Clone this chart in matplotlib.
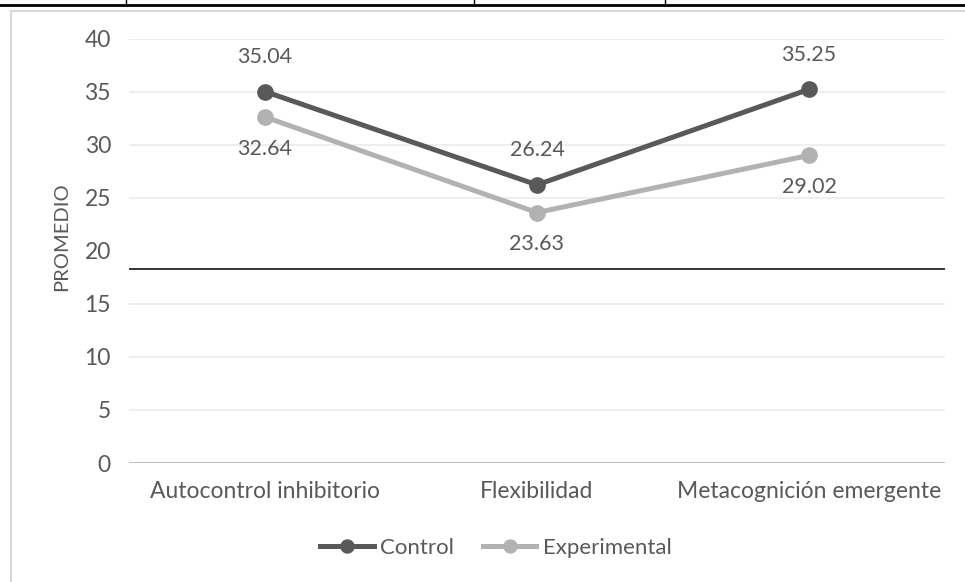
import matplotlib.pyplot as plt
from matplotlib.lines import Line2D

# Datos del grafico
categorias = ['Autocontrol inhibitorio', 'Flexibilidad', 'Metacognición emergente']
control = [35.04, 26.24, 35.25]
experimental = [32.64, 23.63, 29.02]
yticks = [0, 5, 10, 15, 20, 25, 30, 35, 40]

GRIS_OSCURO = '#595959'
GRIS_CLARO = '#B2B2B2'
TEXTO = '#595959'

plt.rcParams['font.family'] = ['Lato', 'DejaVu Sans']

fig = plt.figure(figsize=(9.65, 5.82), dpi=100)
W, H = 965, 582

# Marco del grafico y linea de tabla superior
fig.add_artist(Line2D([11 / W, 11 / W], [0, 1 - 11 / H], color='#D9D9D9', lw=1.5))
fig.add_artist(Line2D([11 / W, 1], [1 - 11 / H, 1 - 11 / H], color='#D9D9D9', lw=1.5))
fig.add_artist(Line2D([0, 1], [1 - 5 / H, 1 - 5 / H], color='black', lw=2))
for xp in [126, 474, 665]:
    fig.add_artist(Line2D([xp / W, xp / W], [1 - 5 / H, 1], color='black', lw=1))

ax = fig.add_axes([129 / W, 1 - 463 / H, (945 - 129) / W, (463 - 39) / H])

x = list(range(len(categorias)))
ax.plot(x, control, color=GRIS_OSCURO, lw=3.6, marker='o', ms=11, label='Control', zorder=4)
ax.plot(x, experimental, color=GRIS_CLARO, lw=3.6, marker='o', ms=11, label='Experimental', zorder=3)

for xi, v in zip(x, control):
    ax.annotate(f'{v:.2f}', (xi, v), xytext=(0, 25), textcoords='offset points',
                ha='center', va='center', fontsize=15.5, color=TEXTO)
for xi, v in zip(x, experimental):
    ax.annotate(f'{v:.2f}', (xi, v), xytext=(0, -23), textcoords='offset points',
                ha='center', va='center', fontsize=15.5, color=TEXTO)

ax.set_xlim(-0.5, 2.5)
ax.set_ylim(0, 40)
ax.set_yticks(yticks)
ax.set_xticks(x)
ax.set_xticklabels(categorias)
ax.tick_params(axis='both', length=0, labelsize=16.5, labelcolor=TEXTO)
ax.tick_params(axis='y', pad=13)
ax.tick_params(axis='x', pad=13)

for t in yticks[1:]:
    if t != 20:
        ax.axhline(t, color='#EBEBEB', lw=1.2, zorder=1)
ax.axhline(0, color='#BFBFBF', lw=2.2, zorder=2)
# linea negra de la tabla que cruza el grafico
ax.axhline(18.3, color='#262626', lw=1.3, zorder=5)

for s in ax.spines.values():
    s.set_visible(False)

fig.text(62 / W, 1 - 237 / H, 'PROMEDIO', rotation=90, ha='center', va='center',
         fontsize=14.5, color=TEXTO)

leg = fig.legend(loc='center', bbox_to_anchor=(0.514, 1 - 548 / H), ncol=2, frameon=False,
                 fontsize=16, handlelength=2.4, columnspacing=1.3, handletextpad=0.3,
                 markerscale=0.85)
for txt in leg.get_texts():
    txt.set_color(TEXTO)

fig.savefig('out.png', dpi=100)
